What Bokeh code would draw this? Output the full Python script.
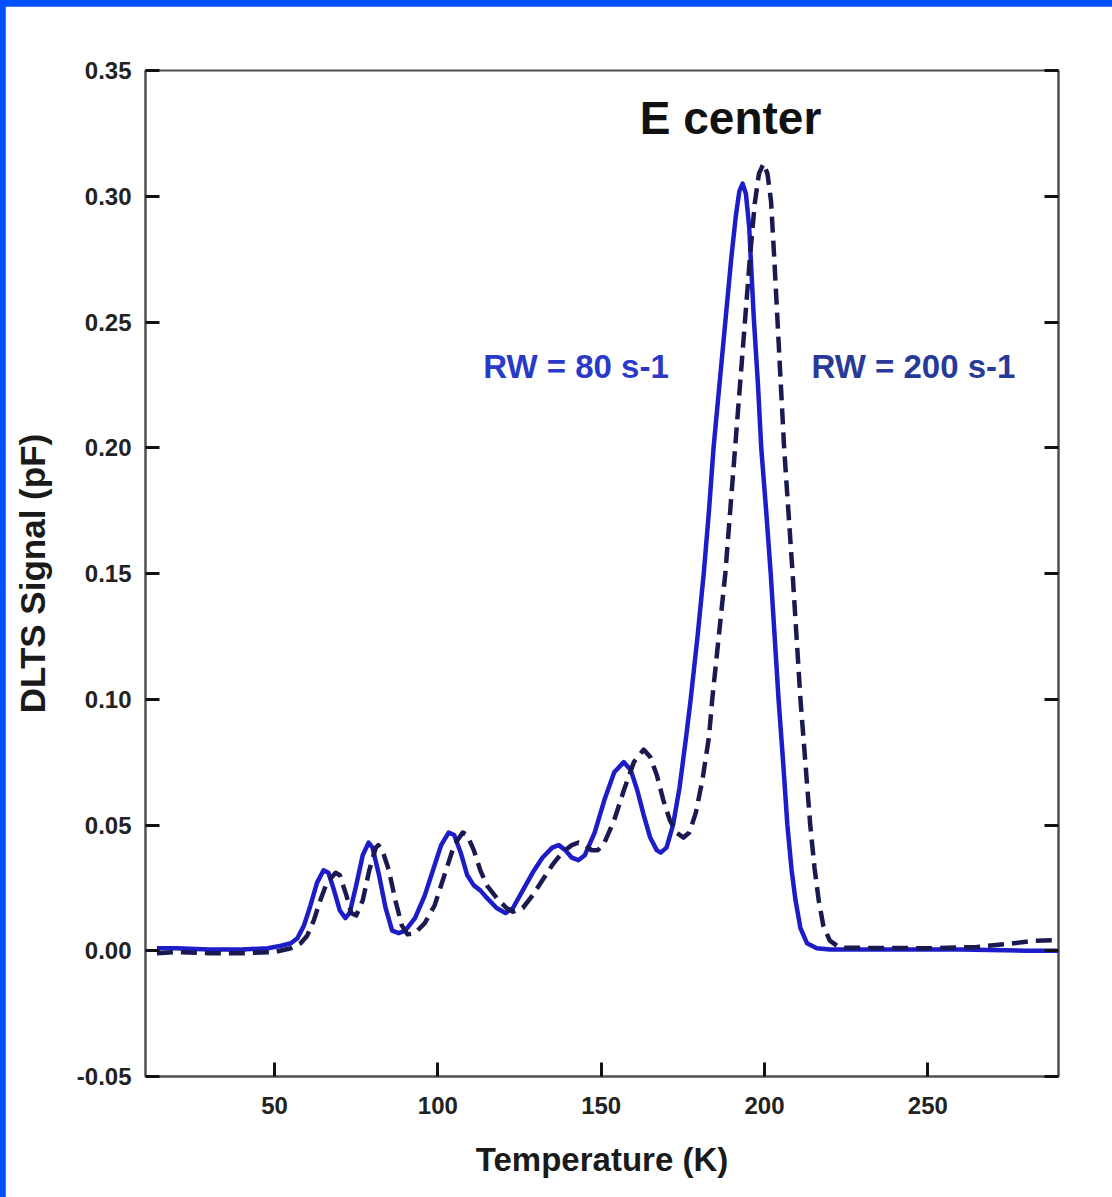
from bokeh.plotting import figure
from bokeh.models import LinearAxis, FixedTicker, PrintfTickFormatter, Range1d, Label
from bokeh.layouts import column
from bokeh.embed import file_html
from bokeh.resources import INLINE

# ---- data ----
temp_rw80 = [14, 20, 30, 40, 48, 52, 55, 57, 59, 61, 63, 65, 66.5, 68, 70, 71.7, 73, 75, 77, 78.8,
             80, 82, 84, 86, 88, 90, 93, 96, 99, 101, 103.3, 105, 107, 109, 111, 113, 115, 118, 120.7,
             123, 126, 129, 132, 135, 137, 139, 141, 143, 145, 148, 151, 154, 156.9, 159, 161, 163,
             165, 167, 168.2, 170, 172, 174, 176, 177.4, 179.5, 181.4, 183, 184.4, 186.2, 188, 189.8,
             191.2, 192.3, 193.3, 194.3, 195.3, 196.7, 198, 199, 200.5, 201.9, 203.1, 204.3, 205.7,
             207, 208.3, 209.5, 211, 213, 216, 220, 240, 260, 280, 290]
sig_rw80 = [0.001, 0.001, 0.0005, 0.0005, 0.001, 0.002, 0.003, 0.005, 0.010, 0.018, 0.027, 0.032, 0.031,
            0.025, 0.016, 0.013, 0.015, 0.026, 0.038, 0.043,
            0.041, 0.030, 0.017, 0.008, 0.007, 0.008, 0.013, 0.022, 0.034, 0.042, 0.047, 0.046, 0.039,
            0.030, 0.026, 0.024, 0.021, 0.017, 0.015,
            0.017, 0.024, 0.031, 0.037, 0.041, 0.042, 0.040, 0.037, 0.036, 0.038, 0.047, 0.060, 0.071,
            0.075, 0.072, 0.064, 0.054,
            0.045, 0.040, 0.039, 0.041, 0.050, 0.065, 0.085, 0.100, 0.125, 0.150, 0.175, 0.200, 0.225,
            0.250, 0.275,
            0.292, 0.302, 0.305, 0.301, 0.288, 0.252, 0.225, 0.200, 0.175, 0.150, 0.125, 0.100, 0.075,
            0.050, 0.032, 0.020,
            0.009, 0.003, 0.001, 0.0005, 0.0005, 0.0005, 0.0, 0.0]

temp_rw200 = [14, 20, 30, 40, 50, 55, 58, 60, 62, 64, 66, 68.7, 70, 72, 73.5, 75, 77, 79, 81, 81.8,
              83, 85, 87, 89, 90.7, 93, 96, 99, 102, 105, 107.6, 109, 111, 113, 115, 118, 121, 123,
              126, 129, 132, 135, 138, 141, 143, 145, 147, 149, 151, 154, 157, 160, 163, 165, 167,
              169, 171, 173, 175.2, 177, 179, 181, 183, 184, 186, 188, 189.5, 191, 192.5, 194, 195.5,
              197, 198.3, 199.7, 200.9, 202, 203, 204, 205, 206, 207.3, 208.6, 209.8, 211, 212.5, 214,
              215.3, 216.6, 218, 220, 223, 250, 265, 275, 283, 290]
sig_rw200 = [-0.001, -0.0005, -0.001, -0.001, -0.0005, 0.001, 0.003, 0.006, 0.012, 0.020, 0.027, 0.031,
             0.030, 0.022, 0.015, 0.014, 0.020, 0.032, 0.041, 0.042,
             0.040, 0.032, 0.020, 0.010, 0.0065, 0.007, 0.011, 0.018, 0.030, 0.042, 0.047, 0.046, 0.040,
             0.032, 0.026, 0.021, 0.017, 0.0155,
             0.017, 0.022, 0.028, 0.034, 0.039, 0.042, 0.043, 0.042, 0.040, 0.040, 0.043, 0.052, 0.064,
             0.075, 0.080, 0.077, 0.070,
             0.060, 0.052, 0.047, 0.045, 0.047, 0.055, 0.068, 0.085, 0.100, 0.125, 0.150, 0.175, 0.200,
             0.225, 0.250, 0.275,
             0.297, 0.309, 0.313, 0.309, 0.298, 0.275, 0.250, 0.225, 0.200, 0.175, 0.150, 0.125, 0.100,
             0.075, 0.050,
             0.033, 0.020, 0.010, 0.004, 0.0012, 0.001, 0.0015, 0.0028, 0.004, 0.0042]

x_ticks = [50, 100, 150, 200, 250]
y_ticks = [-0.05, 0.0, 0.05, 0.10, 0.15, 0.20, 0.25, 0.30, 0.35]

FONT = "Liberation Sans"

p = figure(width=1107, height=1191,
           x_range=Range1d(10.5, 290), y_range=Range1d(-0.05, 0.35),
           output_backend="svg", toolbar_location=None,
           min_border_left=140, min_border_right=54, min_border_top=64, min_border_bottom=121,
           background_fill_color="white", border_fill_color="white")
p.margin = (6, 0, 0, 5)
p.xgrid.visible = False
p.ygrid.visible = False
p.outline_line_color = "#505050"
p.outline_line_width = 2

def style_axis(ax, label_size="24px"):
    ax.axis_line_color = "#505050"
    ax.axis_line_width = 2
    ax.major_tick_in = 14
    ax.major_tick_out = 0
    ax.major_tick_line_width = 3
    ax.major_tick_line_color = "#111111"
    ax.minor_tick_line_color = None
    ax.major_label_text_font = FONT
    ax.major_label_text_font_style = "bold"
    ax.major_label_text_font_size = label_size
    ax.major_label_text_color = "#222222"
    ax.axis_label_text_font = FONT
    ax.axis_label_text_font_style = "bold"
    ax.axis_label_text_font_size = "33px"
    ax.axis_label_text_color = "#1a1a1a"

xa = p.xaxis[0]
xa.ticker = FixedTicker(ticks=x_ticks)
style_axis(xa)
xa.major_label_standoff = 20
xa.axis_label = "Temperature (K)"
xa.axis_label_standoff = 24

ya = p.yaxis[0]
ya.ticker = FixedTicker(ticks=y_ticks)
ya.formatter = PrintfTickFormatter(format="%.2f")
style_axis(ya)
ya.major_label_standoff = 14
ya.axis_label = "DLTS Signal (pF)"
ya.axis_label_text_font_size = "35px"
ya.axis_label_standoff = 22

ra = LinearAxis(ticker=FixedTicker(ticks=y_ticks))
style_axis(ra)
ra.major_label_text_alpha = 0
ra.major_label_text_font_size = "1px"
p.add_layout(ra, "right")

p.line(temp_rw80, sig_rw80, line_color="#1c1cc8", line_width=4.5, line_join="round")
p.line(temp_rw200, sig_rw200, line_color="#1a1a50", line_width=4.5, line_dash="16 8",
       line_join="round")

p.add_layout(Label(x=189.6, y=0.331, text="E center", text_font=FONT, text_font_style="bold",
                   text_font_size="46px", text_color="#111111", text_align="center",
                   text_baseline="middle"))
p.add_layout(Label(x=142.3, y=0.2325, text="RW = 80 s-1", text_font=FONT, text_font_style="bold",
                   text_font_size="33px", text_color="#2a3ac8", text_align="center",
                   text_baseline="middle"))
p.add_layout(Label(x=245.6, y=0.2325, text="RW = 200 s-1", text_font=FONT, text_font_style="bold",
                   text_font_size="33px", text_color="#283a98", text_align="center",
                   text_baseline="middle"))

page = column(p, styles={"background-color": "#0050ff"})
open("out.html", "w").write(file_html(page, INLINE))
